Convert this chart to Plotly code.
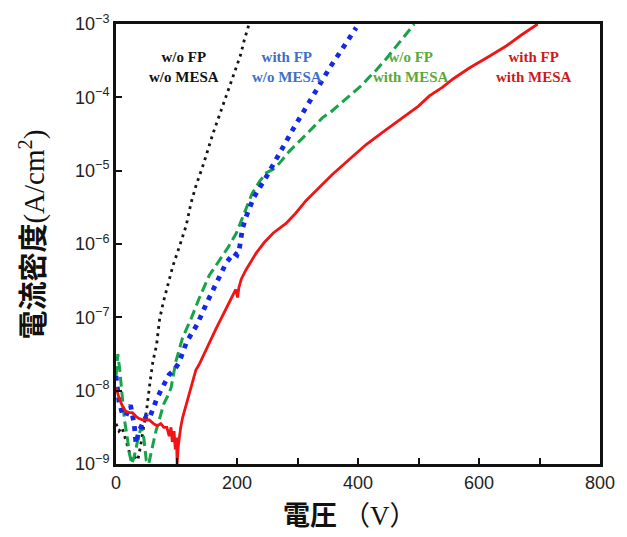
import numpy as np
import plotly.graph_objects as go

# ---- data (voltage in V, current density as log10(A/cm^2)) ----
black_V = [0, 5, 10, 15, 20, 26, 31, 36, 40, 45, 51, 56, 61, 67, 72, 78, 86, 94, 105, 116,
           124, 132, 145, 160, 172, 184, 192, 199, 206, 212, 220]
black_logJ = [-8.45, -8.55, -8.5, -8.65, -8.8, -8.95, -8.9, -8.95, -8.78, -8.55, -8.24, -7.9,
              -7.6, -7.38, -7.03, -6.8, -6.53, -6.3, -6.03, -5.75, -5.44, -5.21, -4.9, -4.5,
              -4.22, -3.94, -3.75, -3.6, -3.42, -3.22, -3.0]

blue_V = [0, 5, 10, 16, 24, 30, 33, 38, 44, 50, 55, 60, 67, 74, 81, 88, 96, 104, 117, 134,
          149, 165, 182, 195, 200, 204, 209, 215, 228, 248, 258, 275, 295, 314, 333, 353, 374, 397]
blue_logJ = [-7.8, -8.15, -8.3, -8.35, -8.2, -8.45, -8.72, -8.55, -8.45, -8.35, -8.38, -8.25,
             -8.12, -8.0, -7.88, -7.78, -7.72, -7.62, -7.33, -7.1, -6.82, -6.53, -6.26, -6.12,
             -6.15, -6.06, -5.79, -5.63, -5.36, -5.09, -4.94, -4.68, -4.4, -4.14, -3.87, -3.6,
             -3.34, -3.05]

green_V = [0, 3, 6, 10, 14, 18, 22, 26, 30, 34, 38, 42, 46, 50, 54, 58, 62, 66, 71, 75, 79,
           85, 91, 99, 110, 124, 137, 154, 171, 185, 199, 212, 225, 237, 248, 260, 270, 286,
           300, 314, 327, 341, 355, 369, 388, 407, 418, 430, 447, 464, 478, 493]
green_logJ = [-7.8, -7.5, -7.7, -8.1, -8.4, -8.6, -8.85, -9.0, -8.9, -8.75, -8.6, -8.5, -8.65,
              -8.95, -9.0, -8.85, -8.7, -8.55, -8.41, -8.3, -8.18, -8.08, -7.96, -7.6, -7.28,
              -7.02, -6.75, -6.43, -6.22, -6.05, -5.85, -5.58, -5.31, -5.15, -5.03, -4.98,
              -4.9, -4.74, -4.63, -4.51, -4.4, -4.28, -4.2, -4.1, -3.97, -3.83, -3.73, -3.63,
              -3.47, -3.3, -3.15, -3.0]

red_V = [0, 5, 10, 16, 22, 27, 33, 38, 45, 55, 62, 68, 74, 79, 84, 88, 91, 93, 96, 98, 100,
         101, 103, 104, 107, 110, 114, 118, 122, 126, 132, 137, 143, 149, 157, 165, 174, 182,
         190, 198, 201, 203, 207, 215, 224, 232, 245, 260, 281, 297, 314, 335, 358, 385, 414,
         445, 480, 500, 518, 540, 557, 584, 615, 645, 670, 697]
red_logJ = [-7.95, -8.1, -8.2, -8.28, -8.3, -8.3, -8.35, -8.38, -8.4, -8.4, -8.45, -8.48, -8.45,
            -8.5, -8.5, -8.62, -8.5, -8.7, -8.55, -8.8, -8.64, -9.0, -8.75, -8.68, -8.5, -8.37,
            -8.25, -8.14, -8.0, -7.87, -7.72, -7.65, -7.55, -7.43, -7.3, -7.16, -7.02, -6.89,
            -6.75, -6.62, -6.73, -6.6, -6.48, -6.35, -6.22, -6.12, -5.98, -5.85, -5.72, -5.58,
            -5.41, -5.24, -5.05, -4.85, -4.64, -4.45, -4.24, -4.12, -3.98, -3.86, -3.75, -3.6,
            -3.45, -3.3, -3.15, -3.0]

x_tick_vals = [0, 200, 400, 600, 800]
y_tick_exps = [-9, -8, -7, -6, -5, -4, -3]

series_labels = ["w/o FP<br>w/o MESA", "with FP<br>w/o MESA",
                 "w/o FP<br>with MESA", "with FP<br>with MESA"]
label_x = [112, 283, 488, 691]

# ---- figure ----
fig = go.Figure()

fig.add_trace(go.Scatter(x=black_V, y=10 ** np.array(black_logJ), mode="lines",
                         line=dict(color="#151515", width=2.8, dash="2.8px,4.5px"),
                         showlegend=False))
fig.add_trace(go.Scatter(x=green_V, y=10 ** np.array(green_logJ), mode="lines",
                         line=dict(color="#18a34a", width=3, dash="10px,5px"),
                         showlegend=False))
fig.add_trace(go.Scatter(x=blue_V, y=10 ** np.array(blue_logJ), mode="lines",
                         line=dict(color="#1428e6", width=4.8, dash="4.8px,6px"),
                         showlegend=False))
fig.add_trace(go.Scatter(x=red_V, y=10 ** np.array(red_logJ), mode="lines",
                         line=dict(color="#f01414", width=2.8),
                         showlegend=False))

label_colors = ["#111111", "#3d6fc8", "#5aa83a", "#cc1a1a"]
for txt, xv, col in zip(series_labels, label_x, label_colors):
    fig.add_annotation(x=xv, y=-3.58, xref="x", yref="y", text="<b>" + txt + "</b>",
                       showarrow=False, font=dict(family="Liberation Serif", size=15, color=col),
                       xanchor="center", yanchor="middle")

fig.add_annotation(
    xref="paper", yref="paper", x=-0.175, y=0.522, textangle=-90,
    text=("<b>電流密度</b>"
          "<span style='font-family:\"Liberation Serif\"'>(A/cm<sup>2</sup>)</span>"),
    showarrow=False, font=dict(family="Noto Sans CJK JP", size=29, color="#111111"),
    xanchor="center", yanchor="middle")

fig.add_annotation(
    xref="paper", yref="paper", x=0.483, y=-0.112,
    text=("<b>電圧</b> （"
          "<span style='font-family:\"Liberation Serif\"'>V</span>）"),
    showarrow=False, font=dict(family="Noto Sans CJK JP", size=27, color="#111111"),
    xanchor="center", yanchor="middle")

fig.update_xaxes(
    range=[0, 800], tickvals=x_tick_vals, ticktext=[str(v) for v in x_tick_vals],
    ticks="inside", ticklen=6, tickwidth=1.5, tickcolor="#111",
    minor=dict(dtick=100, ticks="inside", ticklen=6, tickwidth=1.5, tickcolor="#111"),
    showline=True, linewidth=3, linecolor="#111", mirror=True,
    showgrid=False, zeroline=False,
    tickfont=dict(family="Liberation Sans", size=18, color="#222"),
)
fig.update_yaxes(
    type="log", range=[-9, -3],
    tickvals=[10.0 ** e for e in y_tick_exps],
    ticktext=["10<sup>\u2212%d</sup>" % (-e) for e in y_tick_exps],
    ticks="inside", ticklen=6, tickwidth=1.5, tickcolor="#111",
    showline=True, linewidth=3, linecolor="#111", mirror=True,
    showgrid=False, zeroline=False,
    tickfont=dict(family="Liberation Sans", size=18, color="#222"),
)

fig.update_layout(
    width=627, height=537,
    margin=dict(l=116, r=24, t=19, b=73),
    paper_bgcolor="white", plot_bgcolor="white",
)

fig.write_html("out.html")
